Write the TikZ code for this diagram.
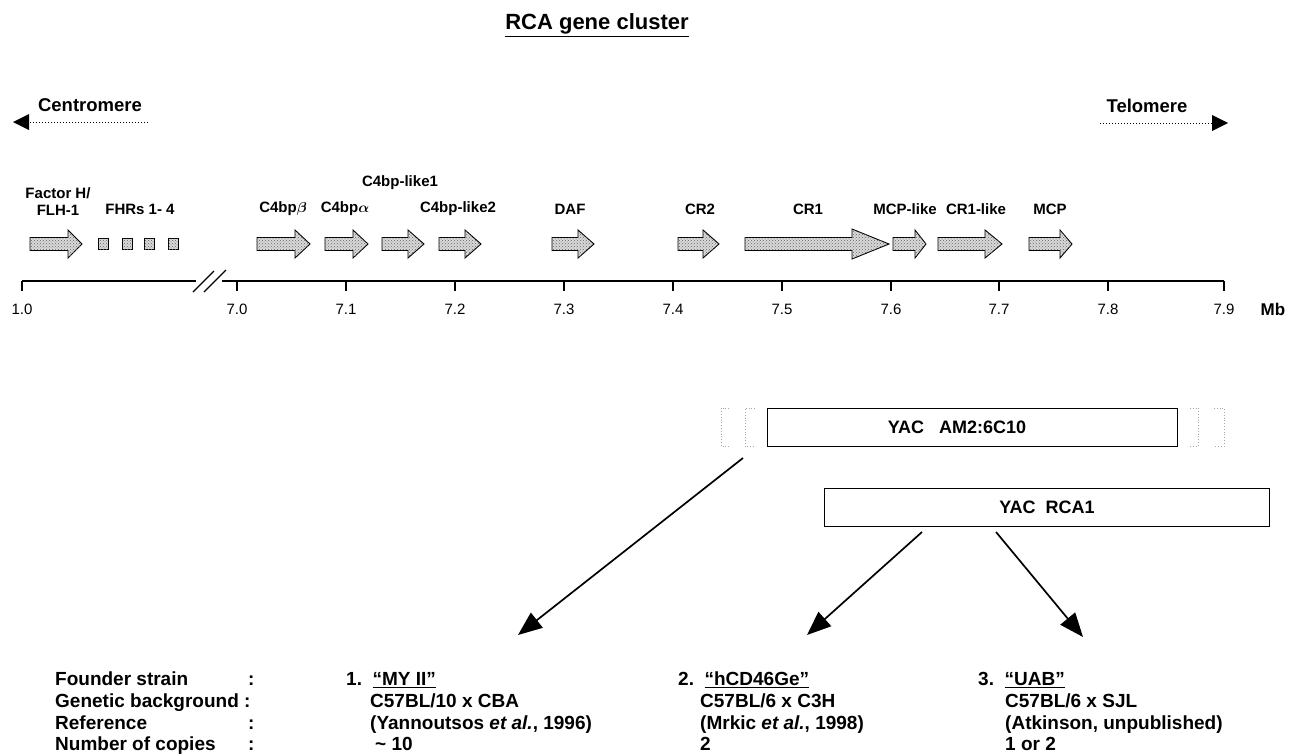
\documentclass[tikz,border=0pt]{standalone}
\usepackage{amsmath}
\usepackage{fontspec}
\setmainfont{Liberation Sans}
\usetikzlibrary{arrows.meta,patterns,calc}
\newcommand\genearr[3]{\draw[genefill] (#1,237.5) -- (#2,237.5) -- (#2,230) -- (#3,244) -- (#2,258) -- (#2,250.5) -- (#1,250.5) -- cycle;}
\newcommand\fhrbox[1]{\draw[genefill] (#1,238) rectangle ++(10,11);}
\begin{document}
\begin{tikzpicture}[x=1pt,y=-1pt,
  lab/.style={font=\bfseries\fontsize{15}{17}\selectfont, inner sep=0pt, align=center},
  big/.style={font=\bfseries\fontsize{18.5}{20}\selectfont, inner sep=0pt},
  tick/.style={font=\fontsize{15}{17}\selectfont, inner sep=0pt},
  txt/.style={font=\bfseries\fontsize{19}{22}\selectfont, inner sep=0pt, anchor=base west},
  genefill/.style={draw=black, line width=0.9pt, fill=gray!30, postaction={pattern=crosshatch dots, pattern color=black!60}},
  yac/.style={draw=black, line width=1pt, minimum height=38pt, inner sep=0pt},
  yact/.style={font=\bfseries\fontsize{18}{20}\selectfont, inner sep=0pt},
  brk/.style={draw=gray!70, dotted, line width=0.8pt},
  bigarrow/.style={line width=1.7pt, -{Triangle[length=24pt,width=19pt]}},
]
\useasboundingbox (0,0) rectangle (1298,755);

% title
\node[font=\bfseries\fontsize{22}{24}\selectfont, inner sep=0pt, anchor=base] (title) at (597,29) {\underline{RCA gene cluster}};

% centromere / telomere
\node[big] (cen) at (90,105) {Centromere};
\node[big] (tel) at (1147,106) {Telomere};
\coordinate (cenA) at (148,122);
\coordinate (cenB) at (13,122);
\coordinate (telA) at (1100,123);
\coordinate (telB) at (1228,123);
\draw[dotted, line width=1pt] (cenA) -- ($(cenB)+(14,0)$);
\fill (cenB) -- ++(16,-8) -- ++(0,16) -- cycle;
\draw[dotted, line width=1pt] (telA) -- ($(telB)+(-14,0)$);
\fill (telB) -- ++(-16,-8) -- ++(0,16) -- cycle;

% gene labels
\node[lab] (lFH) at (58,202) {Factor H/\\FLH-1};
\node[lab] (lFHR) at (140,209) {FHRs 1- 4};
\node[lab] (lB) at (283,209) {C4bp$\boldsymbol\beta$};
\node[lab] (lA) at (345,209) {C4bp$\boldsymbol\alpha$};
\node[lab] (lL1) at (400,183) {C4bp-like1};
\node[lab] (lL2) at (458,209) {C4bp-like2};
\node[lab] (lDAF) at (570,209) {DAF};
\node[lab] (lCR2) at (700,209) {CR2};
\node[lab] (lCR1) at (808,209) {CR1};
\node[lab] (lMCPl) at (905,209) {MCP-like};
\node[lab] (lCR1l) at (976,209) {CR1-like};
\node[lab] (lMCP) at (1050,209) {MCP};

% gene arrows
\genearr{30}{68}{82}
\fhrbox{98}\fhrbox{122}\fhrbox{144}\fhrbox{168}
\genearr{257}{295}{310}
\genearr{325}{353}{368}
\genearr{382}{408}{424}
\genearr{439}{465}{481}
\genearr{552}{578}{594}
\genearr{678}{703}{719}
\draw[genefill] (745,237.5) -- (852,237.5) -- (852,229) -- (889,244) -- (852,259) -- (852,250.5) -- (745,250.5) -- cycle;
\genearr{893}{915}{926}
\genearr{938}{985}{1002}
\genearr{1029}{1060}{1072}

% axis
\draw[line width=1.2pt] (22,281) -- (1224,281);
\foreach \x/\t in {22/1.0,237/7.0,346/7.1,455/7.2,564/7.3,673/7.4,782/7.5,891/7.6,999/7.7,1108/7.8,1224/7.9}{
  \draw[line width=1.2pt] (\x,281) -- (\x,291);
  \node[tick] at (\x,309) {\t};
}
\node[font=\bfseries\fontsize{17}{19}\selectfont, inner sep=0pt] (mb) at (1273,309) {Mb};
\fill[white] (196,276) rectangle (222,286);
\draw[line width=1.2pt] (193,292) -- (214,271);
\draw[line width=1.2pt] (204,292) -- (226,270);

% YAC boxes
\node[yac, minimum width=410pt] (am2) at (972,427) {};
\node[yact] (am2t) at (957,427) {YAC\ \ \ AM2:6C10};
\node[yac, minimum width=445pt] (rca) at (1046.5,507) {};
\node[yact] (rcat) at (1047,507) {YAC\ \ RCA1};
% dotted brackets
\draw[brk] (729,408) -- (721,408) -- (721,446) -- (729,446);
\draw[brk] (755,408) -- (745,408) -- (745,446) -- (755,446);
\draw[brk] (1190,408) -- (1198,408) -- (1198,446) -- (1190,446);
\draw[brk] (1214,408) -- (1224,408) -- (1224,446) -- (1214,446);

% bottom text
\node[txt] (f1) at (55,685) {Founder strain};
\node[txt] (f2) at (55,707) {Genetic background :};
\node[txt] (f3) at (55,729) {Reference};
\node[txt] (f4) at (55,750) {Number of copies};
\node[txt] (c1) at (248,685) {:};
\node[txt] (c3) at (248,729) {:};
\node[txt] (c4) at (248,750) {:};

\node[txt] (n1) at (346,685) {1.\ \ \underline{“MY II”}};
\node[txt] (g1) at (370,707) {C57BL/10 x CBA};
\node[txt] (r1) at (370,729) {(Yannoutsos \textit{et al.}, 1996)};
\node[txt] (k1) at (375,750) {\textasciitilde\ 10};

\node[txt] (n2) at (678,685) {2.\ \ \underline{“hCD46Ge”}};
\node[txt] (g2) at (700,707) {C57BL/6 x C3H};
\node[txt] (r2) at (700,729) {(Mrkic \textit{et al.}, 1998)};
\node[txt] (k2) at (700,750) {2};

\node[txt] (n3) at (978,685) {3.\ \ \underline{“UAB”}};
\node[txt] (g3) at (1005,707) {C57BL/6 x SJL};
\node[txt] (r3) at (1005,729) {(Atkinson, unpublished)};
\node[txt] (k3) at (1005,750) {1 or 2};

% arrows
\coordinate (s1) at (743,458);
\coordinate (t1) at (518,635);
\coordinate (s2) at (922,532);
\coordinate (t2) at (807,635);
\coordinate (s3) at (996,532);
\coordinate (t3) at (1083,637);
\draw[bigarrow] (s1) -- (t1);
\draw[bigarrow] (s2) -- (t2);
\draw[bigarrow] (s3) -- (t3);
\end{tikzpicture}
\end{document}
